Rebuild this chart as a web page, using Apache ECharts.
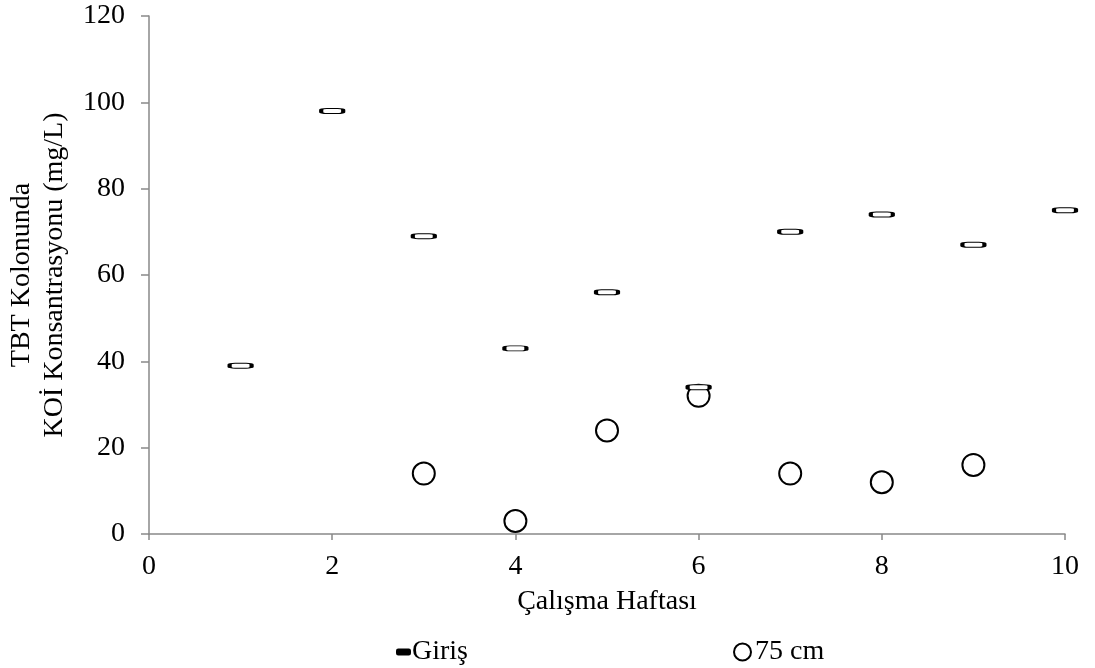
<!DOCTYPE html>
<html><head><meta charset="utf-8">
<script src="https://cdn.jsdelivr.net/npm/echarts@6/dist/echarts.min.js"></script>
<style>html,body{margin:0;padding:0;background:#fff}#c{width:1095px;height:668px}</style>
</head><body><div id="c"></div>
<script>
const weeksGiris = [1,2,3,4,5,6,7,8,9,10];
const girisValues = [39,98,69,43,56,34,70,74,67,75];
const weeks75 = [3,4,5,6,7,8,9];
const cm75Values = [14,3,24,32,14,12,16];
const xTitle = 'Çalışma Haftası';
const yTitle = 'TBT Kolonunda\nKOİ Konsantrasyonu (mg/L)';
const seriesNames = ['Giriş','75 cm'];

const font = '"Liberation Serif", "Times New Roman", serif';
const axisColor = '#898989';
const chart = echarts.init(document.getElementById('c'));
chart.setOption({
  animation:false,
  textStyle:{fontFamily:font},
  grid:{left:149,right:30,top:16,bottom:134,containLabel:false,outerBoundsMode:'none'},
  xAxis:{type:'value',min:0,max:10,interval:2,
    name:xTitle,nameLocation:'middle',nameGap:54,
    nameTextStyle:{fontFamily:font,fontSize:28,color:'#000'},
    axisLine:{lineStyle:{color:axisColor,width:1.5}},
    axisTick:{show:true,length:6,lineStyle:{color:axisColor,width:1.5}},
    axisLabel:{fontFamily:font,fontSize:28,color:'#000',margin:19},
    splitLine:{show:false}},
  yAxis:{type:'value',min:0,max:120,interval:20,
    name:yTitle,nameLocation:'middle',nameRotate:90,nameGap:78,
    nameTextStyle:{fontFamily:font,fontSize:28,color:'#000',lineHeight:33},
    axisLine:{show:true,lineStyle:{color:axisColor,width:1.5}},
    axisTick:{show:true,length:8,lineStyle:{color:axisColor,width:1.5}},
    axisLabel:{fontFamily:font,fontSize:28,color:'#000',margin:24},
    splitLine:{show:false}},
  legend:[
    {data:[{name:seriesNames[0],itemStyle:{color:'#000',borderColor:'#000',borderWidth:2}}],
     left:391,top:633,itemWidth:13,itemHeight:5,
     textStyle:{fontFamily:font,fontSize:28,color:'#000',padding:[0,0,0,-3]}},
    {data:[seriesNames[1]],left:728,top:633,itemWidth:17,itemHeight:17,
     textStyle:{fontFamily:font,fontSize:28,color:'#000',padding:[0,0,0,-1]}}
  ],
  series:[
    {name:seriesNames[0],type:'scatter',symbol:'roundRect',symbolSize:[22,5],z:3,
     data:weeksGiris.map((w,i)=>[w,girisValues[i]]),
     itemStyle:{color:'#fff',borderColor:'#000',borderWidth:2,opacity:1}},
    {name:seriesNames[1],type:'scatter',symbol:'circle',symbolSize:22,z:2,
     data:weeks75.map((w,i)=>[w,cm75Values[i]]),
     itemStyle:{color:'rgba(255,255,255,0)',borderColor:'#000',borderWidth:2,opacity:1}}
  ]
});
</script></body></html>
